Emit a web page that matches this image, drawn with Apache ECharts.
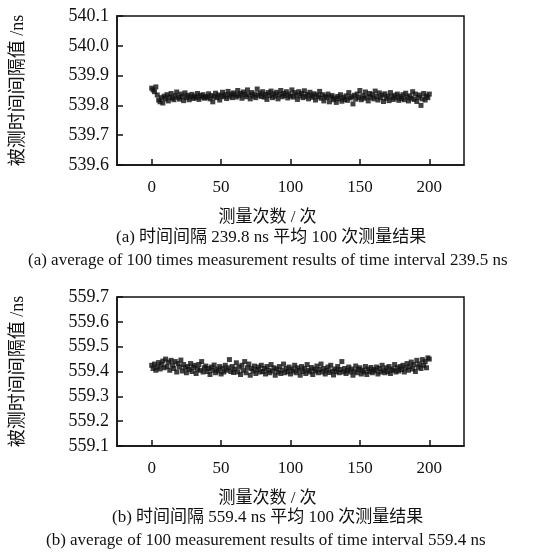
<!DOCTYPE html>
<html>
<head>
<meta charset="utf-8">
<script src="https://cdn.jsdelivr.net/npm/echarts@6/dist/echarts.min.js"></script>
<style>html,body{margin:0;padding:0;background:#fff}#c{width:552px;height:560px}</style>
</head>
<body>
<div id="c"></div>
<script>
const xTicks = [0, 50, 100, 150, 200];
const yTicksA = [539.6, 539.7, 539.8, 539.9, 540.0, 540.1];
const yTicksB = [559.1, 559.2, 559.3, 559.4, 559.5, 559.6, 559.7];
const yNameText = '被测时间间隔值 /ns';
const xNameText = '测量次数 / 次';
const captionA_cn = '(a) 时间间隔 239.8 ns 平均 100 次测量结果';
const captionA_en = '(a) average of 100 times measurement results of time interval 239.5 ns';
const captionB_cn = '(b) 时间间隔 559.4 ns 平均 100 次测量结果';
const captionB_en = '(b) average of 100 measurement results of time interval 559.4 ns';

const seriesA = [
539.858,539.852,539.846,539.862,539.835,539.818,539.812,539.826,539.808,539.831,539.822,539.836,539.815,539.828,539.840,539.824,539.819,539.833,539.845,539.827,
539.821,539.838,539.830,539.816,539.842,539.826,539.834,539.819,539.829,539.837,539.823,539.831,539.826,539.840,539.820,539.833,539.828,539.836,539.824,539.830,
539.827,539.839,539.822,539.833,539.812,539.829,539.841,539.826,539.835,539.818,539.832,539.844,539.829,539.836,539.823,539.847,539.831,539.838,539.826,539.842,
539.835,539.828,539.850,539.833,539.840,539.824,539.845,539.837,539.829,539.852,539.836,539.822,539.843,539.831,539.838,539.826,539.855,539.834,539.841,539.830,
539.846,539.828,539.837,539.820,539.843,539.833,539.848,539.826,539.839,539.831,539.844,539.822,539.836,539.850,539.829,539.840,539.833,539.846,539.825,539.838,
539.831,539.852,539.828,539.843,539.835,539.820,539.846,539.832,539.840,539.826,539.849,539.830,539.837,539.822,539.844,539.833,539.827,539.839,539.818,539.835,
539.829,539.847,539.824,539.836,539.815,539.831,539.826,539.838,539.812,539.828,539.833,539.819,539.825,539.810,539.830,539.822,539.836,539.814,539.827,539.820,
539.832,539.817,539.843,539.825,539.829,539.805,539.834,539.821,539.838,539.826,539.850,539.819,539.833,539.824,539.845,539.829,539.815,539.840,539.827,539.836,
539.822,539.848,539.830,539.818,539.842,539.826,539.835,539.813,539.839,539.824,539.831,539.816,539.843,539.828,539.820,539.834,539.825,539.838,539.817,539.830,
539.823,539.836,539.819,539.841,539.828,539.815,539.832,539.824,539.846,539.820,539.838,539.813,539.827,539.835,539.800,539.822,539.840,539.818,539.832,539.826,
539.838
];
const seriesB = [
559.425,559.412,559.430,559.405,559.418,559.436,559.410,559.428,559.442,559.415,559.450,559.420,559.438,559.405,559.445,559.425,559.412,559.440,559.398,559.432,
559.418,559.446,559.402,559.428,559.415,559.395,559.420,559.408,559.432,559.400,559.417,559.425,559.392,559.410,559.428,559.405,559.440,559.398,559.415,559.422,
559.400,559.412,559.388,559.418,559.405,559.426,559.395,559.410,559.402,559.420,559.390,559.413,559.398,559.425,559.405,559.415,559.448,559.400,559.420,559.396,
559.410,559.435,559.398,559.418,559.388,559.425,559.405,559.440,559.395,559.415,559.430,559.385,559.412,559.402,559.422,559.392,559.408,559.418,559.398,559.425,
559.400,559.412,559.390,559.420,559.405,559.395,559.428,559.402,559.415,559.385,559.410,559.398,559.420,559.392,559.406,559.430,559.395,559.412,559.400,559.418,
559.390,559.410,559.402,559.425,559.395,559.415,559.405,559.385,559.420,559.400,559.412,559.392,559.428,559.405,559.398,559.416,559.388,559.410,559.402,559.422,
559.395,559.408,559.430,559.398,559.412,559.390,559.405,559.418,559.396,559.425,559.402,559.386,559.410,559.400,559.420,559.395,559.408,559.440,559.398,559.412,
559.392,559.405,559.418,559.398,559.410,559.385,559.402,559.422,559.395,559.408,559.415,559.390,559.405,559.398,559.420,559.388,559.410,559.400,559.416,559.395,
559.408,559.402,559.418,559.390,559.412,559.398,559.425,559.405,559.395,559.415,559.400,559.420,559.392,559.410,559.405,559.428,559.398,559.415,559.402,559.420,
559.408,559.425,559.398,559.415,559.432,559.405,559.420,559.438,559.410,559.428,559.400,559.445,559.418,559.430,559.412,559.448,559.425,559.440,559.415,559.455,
559.450
];

const FONT = '"Liberation Serif","Times New Roman","Noto Sans CJK SC",serif';
const FS = 17;
const txt = {color:'#111', fontFamily: FONT, fontSize: FS};

function xAxisCfg(gi){
  return {
    type:'value', gridIndex: gi, min:-25, max:225,
    name: xNameText, nameLocation:'middle', nameGap: 44,
    nameTextStyle: Object.assign({}, txt, {padding:[0,46,0,0]}),
    axisLine:{show:true, onZero:false, lineStyle:{color:'#111', width:1.5}},
    axisTick:{show:true, inside:true, length:6, lineStyle:{color:'#111', width:1.5}, customValues: xTicks},
    axisLabel:Object.assign({}, txt, {margin:14, customValues: xTicks}),
    splitLine:{show:false}
  };
}
function yAxisCfg(gi, ticks){
  return {
    type:'value', gridIndex: gi, min: ticks[0], max: ticks[ticks.length-1],
    name: yNameText, nameLocation:'middle', nameGap: 90, nameRotate: 90,
    nameTextStyle: Object.assign({}, txt, {fontSize:18}),
    axisLine:{show:true, onZero:false, lineStyle:{color:'#111', width:1.5}},
    axisTick:{show:true, inside:true, length:6, lineStyle:{color:'#111', width:1.5}, customValues: ticks},
    axisLabel:Object.assign({}, txt, {fontSize:18, margin:8, customValues: ticks, formatter: v => v.toFixed(1)}),
    splitLine:{show:false}
  };
}
function scatter(gi, arr){
  return {
    type:'scatter', xAxisIndex: gi, yAxisIndex: gi,
    symbol:'rect', symbolSize:5,
    itemStyle:{color:'#111'},
    data: arr.map((v,i)=>[i, v]),
    silent:true, animation:false
  };
}
const capStyle = Object.assign({}, txt, {fontWeight:'normal'});

const chart = echarts.init(document.getElementById('c'), null, {renderer:'canvas'});
chart.setOption({
  backgroundColor:'#fff',
  animation:false,
  grid:[
    {left:117, top:16, width:347, height:149, show:true, borderColor:'#111', borderWidth:1.5, backgroundColor:'transparent'},
    {left:117, top:297, width:347, height:149, show:true, borderColor:'#111', borderWidth:1.5, backgroundColor:'transparent'}
  ],
  xAxis:[xAxisCfg(0), xAxisCfg(1)],
  yAxis:[yAxisCfg(0, yTicksA), yAxisCfg(1, yTicksB)],
  series:[scatter(0, seriesA), scatter(1, seriesB)],
  title:[
    {text: captionA_cn, left:116, top:229, textStyle: capStyle, padding:0},
    {text: captionA_en, left:28, top:252, textStyle: capStyle, padding:0},
    {text: captionB_cn, left:112, top:509, textStyle: capStyle, padding:0},
    {text: captionB_en, left:46, top:532, textStyle: capStyle, padding:0}
  ]
});
</script>
</body>
</html>
